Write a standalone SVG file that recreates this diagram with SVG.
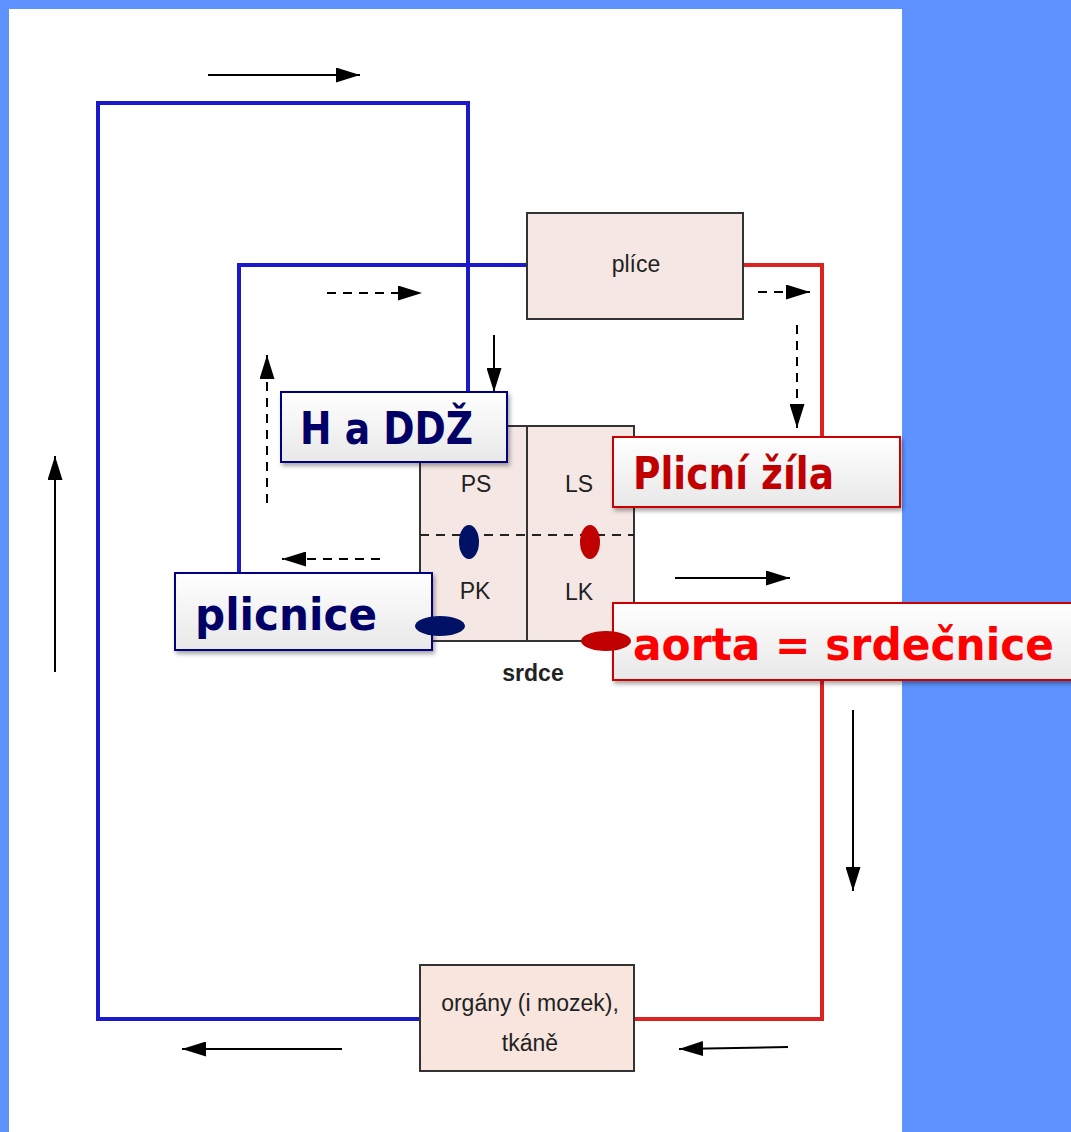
<svg xmlns="http://www.w3.org/2000/svg" width="1071" height="1132" viewBox="0 0 1071 1132">
<defs>
<marker id="ahb" viewBox="0 0 10 10" refX="10" refY="5" markerWidth="24" markerHeight="15" markerUnits="userSpaceOnUse" orient="auto" preserveAspectRatio="none"><path d="M0,0 L10,5 L0,10 z" fill="#000"/></marker>
<linearGradient id="lg" x1="0" y1="0" x2="0" y2="1"><stop offset="0" stop-color="#ffffff"/><stop offset="1" stop-color="#e8e8e8"/></linearGradient>
<filter id="sh" x="-10%" y="-10%" width="130%" height="140%"><feDropShadow dx="2" dy="3" stdDeviation="2" flood-color="#000" flood-opacity="0.35"/></filter>
</defs>
<style>
.box{fill:#f5e8e4;stroke:#333;stroke-width:2}
.blue{fill:none;stroke:#1a1acc;stroke-width:4}
.red{fill:none;stroke:#dd2222;stroke-width:4}
.arr{stroke:#000;stroke-width:2;fill:none}
.dash{stroke:#000;stroke-width:2;fill:none;stroke-dasharray:9 7}
.t{font-family:"Liberation Sans",Arial,sans-serif;font-size:23px;fill:#222;text-anchor:middle}
.lb{fill:url(#lg);stroke-width:2;filter:url(#sh)}
.big{font-family:"DejaVu Sans",Verdana,sans-serif;font-weight:bold;font-size:44px}
</style>
<rect x="0" y="0" width="1071" height="1132" fill="#5e93ff"/>
<rect x="9" y="9" width="893" height="1123" fill="#ffffff"/>

<g id="connectors">
<polyline class="blue" points="421,1019 98,1019 98,103 468,103 468,393"/>
<polyline class="blue" points="528,265 239,265 239,573"/>
<polyline class="red" points="743,265 822,265 822,438"/>
<polyline class="red" points="822,680 822,1019 634,1019"/>
<line class="arr" x1="208" y1="75" x2="360" y2="75" marker-end="url(#ahb)"/>
<line class="dash" x1="327" y1="293" x2="422" y2="293" marker-end="url(#ahb)"/>
<line class="arr" x1="494" y1="335" x2="494" y2="392" marker-end="url(#ahb)"/>
<line class="dash" x1="758" y1="292" x2="810" y2="292" marker-end="url(#ahb)"/>
<line class="dash" x1="797" y1="325" x2="797" y2="428" marker-end="url(#ahb)"/>
<line class="dash" x1="267" y1="503" x2="267" y2="355" marker-end="url(#ahb)"/>
<line class="dash" x1="380" y1="559" x2="282" y2="559" marker-end="url(#ahb)"/>
<line class="arr" x1="675" y1="578" x2="790" y2="578" marker-end="url(#ahb)"/>
<line class="arr" x1="55" y1="672" x2="55" y2="456" marker-end="url(#ahb)"/>
<line class="arr" x1="853" y1="710" x2="853" y2="891" marker-end="url(#ahb)"/>
<line class="arr" x1="342" y1="1049" x2="182" y2="1049" marker-end="url(#ahb)"/>
<line class="arr" x1="788" y1="1047" x2="679" y2="1049" marker-end="url(#ahb)"/>
</g>

<g id="plice">
<rect class="box" x="527" y="213" width="216" height="106"/>
<text class="t" x="636" y="272">plíce</text>
</g>

<g id="srdce">
<rect class="box" x="420" y="426" width="214" height="215"/>
<line x1="527" y1="426" x2="527" y2="641" stroke="#333" stroke-width="2"/>
<line x1="420" y1="535" x2="634" y2="535" stroke="#222" stroke-width="2" stroke-dasharray="9 7"/>
<text class="t" x="476" y="492">PS</text>
<text class="t" x="579" y="492">LS</text>
<text class="t" x="475" y="599">PK</text>
<text class="t" x="579" y="600">LK</text>
<text class="t" x="533" y="681" style="font-weight:bold">srdce</text>
<ellipse cx="469" cy="542" rx="10" ry="17" fill="#001166"/>
<ellipse cx="590" cy="542" rx="10" ry="17" fill="#c00000"/>
</g>

<g id="organy">
<rect class="box" x="420" y="965" width="214" height="106" style="fill:#f8e6de"/>
<text class="t" x="530" y="1011">orgány (i mozek),</text>
<text class="t" x="530" y="1051">tkáně</text>
</g>

<g id="label-HaDDZ">
<rect class="lb" x="281" y="392" width="226" height="70" stroke="#000080"/>
<text class="big" x="300" y="444" fill="#000066" textLength="173" lengthAdjust="spacingAndGlyphs">H a DDŽ</text>
</g>

<g id="label-plicnice">
<rect class="lb" x="175" y="573" width="257" height="77" stroke="#000080"/>
<text class="big" x="195" y="630" fill="#000066" textLength="182" lengthAdjust="spacingAndGlyphs">plicnice</text>
<ellipse cx="440" cy="626" rx="25" ry="10" fill="#001166"/>
</g>

<g id="label-plicni-zila">
<rect class="lb" x="613" y="437" width="287" height="70" stroke="#cc0000"/>
<text class="big" x="633" y="489" fill="#c00000" textLength="201" lengthAdjust="spacingAndGlyphs">Plicní žíla</text>
</g>

<g id="label-aorta">
<rect class="lb" x="613" y="603" width="470" height="77" stroke="#cc0000"/>
<text class="big" x="633" y="660" fill="#ff0000" textLength="421" lengthAdjust="spacingAndGlyphs">aorta = srdečnice</text>
<ellipse cx="606" cy="641" rx="25" ry="10" fill="#c00000"/>
</g>
</svg>
